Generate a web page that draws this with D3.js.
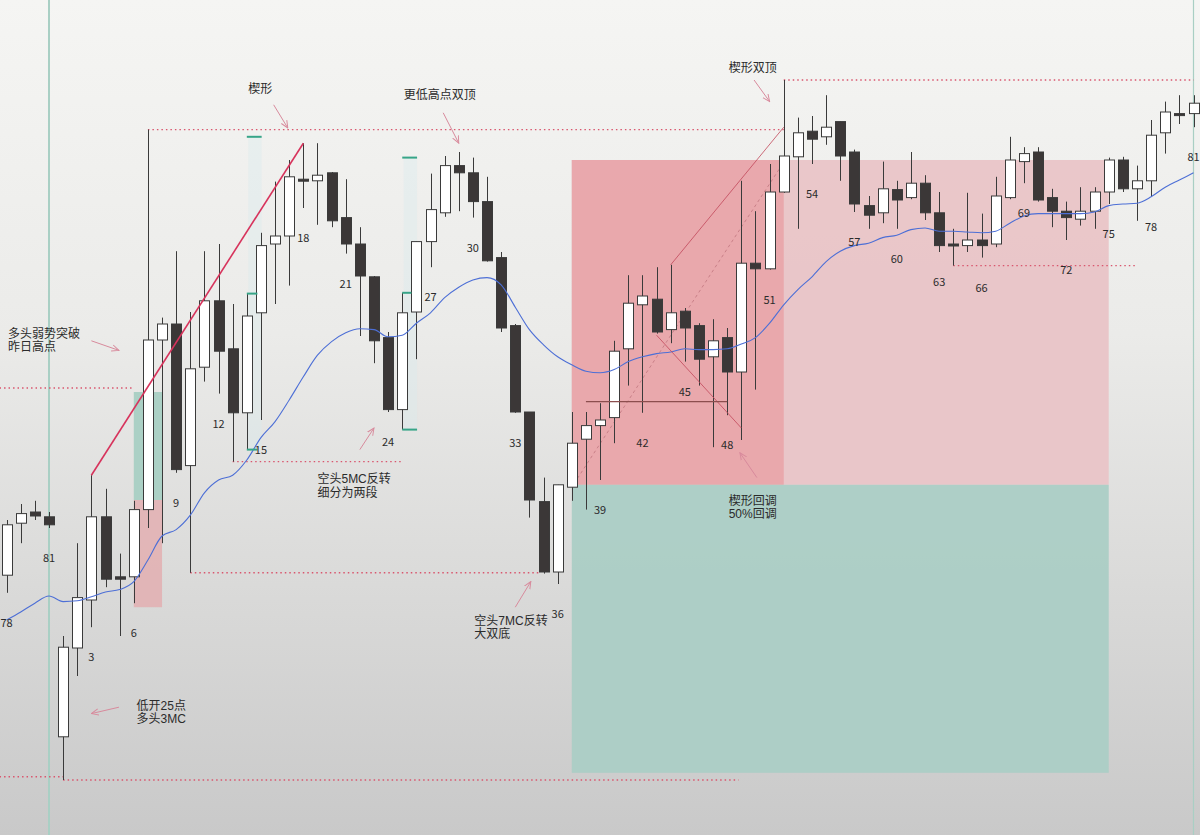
<!DOCTYPE html>
<html>
<head>
<meta charset="utf-8">
<script src="https://cdn.jsdelivr.net/npm/d3@7"></script>
<style>
  body { margin: 0; background: #e6e6e4; }
  svg { display: block; }
  text { font-family: "Noto Sans CJK SC", "Noto Sans", sans-serif; fill: #2b2b2b; }
  text.note { font-family: "Liberation Sans", "Noto Sans CJK SC", sans-serif; }
</style>
</head>
<body>
<div id="chart"></div>
<script>
// bar numbers: last 4 bars of yesterday, then today 1..81
var barNames = [78, 79, 80, 81].concat(d3.range(1, 82));

var opens = [4028.1, 4034.6, 4036.0, 4035.4,
  4007.9, 4019.0, 4025.0, 4035.4, 4027.9, 4027.9, 4036.3, 4057.5, 4059.5, 4041.8,
  4054.1, 4062.4, 4056.4, 4048.4, 4060.9, 4069.5, 4070.5, 4077.6, 4077.4, 4078.4,
  4072.8, 4069.5, 4065.4, 4057.8, 4048.8, 4061.0, 4069.8, 4073.4, 4079.3, 4078.4,
  4074.8, 4067.8, 4059.3, 4048.5, 4037.3, 4028.5, 4039.1, 4045.1, 4046.8, 4047.8,
  4056.4, 4061.9, 4062.6, 4058.8, 4061.1, 4059.3, 4055.4, 4057.8, 4053.5, 4067.1,
  4066.4, 4076.0, 4080.4, 4083.6, 4082.9, 4084.8, 4081.0, 4074.3, 4073.4, 4076.3,
  4075.3, 4077.1, 4073.4, 4069.5, 4069.3, 4070.0, 4069.5, 4075.3, 4079.8, 4081.0,
  4075.3, 4073.6, 4072.6, 4073.6, 4076.0, 4080.0, 4076.4, 4077.4, 4083.4, 4085.8, 4085.8];

var highs = [4035.0, 4037.0, 4037.4, 4036.0,
  4020.5, 4032.1, 4040.6, 4038.9, 4030.8, 4037.4, 4083.8, 4060.3, 4068.6, 4061.0,
  4068.6, 4069.5, 4062.0, 4063.3, 4070.9, 4077.3, 4080.0, 4082.1, 4082.1, 4078.5,
  4077.6, 4071.6, 4065.5, 4058.5, 4063.4, 4069.8, 4078.3, 4080.5, 4081.0, 4080.3,
  4077.9, 4068.5, 4059.5, 4048.5, 4040.3, 4039.4, 4048.5, 4048.5, 4049.6, 4057.4,
  4065.6, 4065.6, 4066.6, 4066.9, 4061.5, 4059.6, 4060.1, 4059.0, 4077.4, 4073.6,
  4079.5, 4090.0, 4085.3, 4085.5, 4088.1, 4084.8, 4081.3, 4075.5, 4079.8, 4077.4,
  4081.0, 4078.1, 4076.0, 4071.4, 4075.9, 4073.3, 4077.9, 4082.9, 4081.6, 4081.6,
  4076.4, 4074.8, 4076.6, 4076.6, 4080.3, 4080.4, 4079.3, 4085.0, 4087.3, 4088.1, 4088.1];

var lows = [4025.9, 4032.1, 4035.0, 4034.0,
  4002.5, 4015.5, 4021.6, 4026.6, 4020.5, 4024.6, 4034.0, 4032.1, 4040.9, 4028.4,
  4052.3, 4050.8, 4042.3, 4043.8, 4047.5, 4062.0, 4064.3, 4074.0, 4071.9, 4071.6,
  4068.3, 4058.0, 4054.6, 4048.5, 4046.3, 4055.1, 4066.6, 4072.9, 4073.6, 4072.8,
  4067.3, 4058.5, 4048.4, 4035.3, 4028.3, 4027.0, 4037.4, 4036.3, 4040.0, 4044.6,
  4051.8, 4048.4, 4058.3, 4057.1, 4054.8, 4051.8, 4044.1, 4048.1, 4045.0, 4051.3,
  4066.3, 4075.9, 4071.4, 4079.5, 4081.9, 4077.4, 4073.5, 4071.4, 4072.1, 4071.4,
  4075.1, 4072.5, 4068.5, 4066.8, 4068.5, 4067.8, 4069.1, 4075.1, 4077.1, 4074.8,
  4071.6, 4070.0, 4071.8, 4071.4, 4074.5, 4076.0, 4072.4, 4075.4, 4080.8, 4084.5, 4084.1];

var closes = [4034.4, 4035.8, 4035.5, 4034.4,
  4019.1, 4025.3, 4035.4, 4027.6, 4027.6, 4036.3, 4057.5, 4059.5, 4041.3, 4053.9,
  4062.4, 4056.1, 4048.4, 4060.5, 4069.3, 4070.5, 4077.9, 4077.4, 4078.1, 4072.4,
  4069.5, 4065.5, 4057.4, 4048.8, 4060.9, 4069.8, 4073.8, 4079.3, 4078.4, 4074.8,
  4067.4, 4059.0, 4048.5, 4037.5, 4028.5, 4039.4, 4044.6, 4046.8, 4047.5, 4056.1,
  4062.1, 4063.0, 4058.5, 4060.9, 4059.0, 4055.1, 4057.4, 4053.5, 4067.1, 4066.4,
  4076.0, 4080.5, 4083.4, 4082.6, 4084.1, 4080.5, 4074.5, 4073.1, 4076.4, 4075.0,
  4077.1, 4073.4, 4069.3, 4069.3, 4070.0, 4069.3, 4075.5, 4080.0, 4080.8, 4075.0,
  4073.6, 4072.8, 4073.6, 4076.0, 4080.0, 4076.4, 4077.4, 4083.1, 4086.0, 4085.7, 4087.1];

// 20 bar EMA (blue line)
var ema20 = [4022.5, 4023.5, 4024.6, 4025.5,
  4024.8, 4024.9, 4025.4, 4026.0, 4026.3, 4027.3, 4030.0, 4033.0, 4033.8, 4035.6,
  4038.4, 4040.0, 4040.6, 4042.5, 4045.3, 4047.3, 4050.0, 4052.9, 4055.6, 4057.3,
  4058.4, 4058.9, 4058.8, 4057.9, 4058.1, 4059.6, 4060.9, 4062.8, 4064.1, 4065.0,
  4065.3, 4064.4, 4061.6, 4058.8, 4056.9, 4055.4, 4054.4, 4053.6, 4053.4, 4053.8,
  4054.8, 4055.4, 4055.8, 4056.0, 4056.4, 4056.3, 4056.3, 4056.4, 4057.0, 4057.8,
  4059.6, 4061.9, 4063.8, 4065.4, 4067.3, 4068.6, 4069.3, 4069.6, 4070.3, 4070.6,
  4071.3, 4071.5, 4071.1, 4071.1, 4071.0, 4070.9, 4071.1, 4072.1, 4073.0, 4073.3,
  4073.3, 4073.3, 4073.3, 4073.5, 4074.3, 4074.5, 4074.6, 4075.4, 4076.6, 4077.5, 4078.4];

// zones [fromBar, toBar, topPrice, bottomPrice, colour]
var zones = [
  [37, 75, 4080.0, 4039.4, "#e9c4c7"],
  [37, 52, 4080.0, 4039.4, "#e9a7ab"],
  [37, 75, 4039.4, 4003.4, "#abcdc5"],
  [6, 8, 4051.0, 4037.5, "#a8cfc3"],
  [6, 8, 4037.5, 4024.1, "#e2b3b5"]
];

// dotted price levels [fromBar, toBar, price]
var levels = [
  [-3.5, 6, 4051.5],
  [7, 52, 4083.8],
  [52, 81, 4090.0],
  [13, 24.9, 4042.3],
  [10, 34.7, 4028.4],
  [64, 77, 4066.8],
  [1, 48.8, 4002.5],
  [-3.5, 1, 4002.9]
];

// trend lines [bar1, price1, bar2, price2]
var wedgeLine = [3, 4040.6, 18, 4082.1];
var thinLines = [
  [44, 4066.9, 52, 4084.1],
  [43, 4058.1, 49, 4046.5]
];
var dashLine = [37.4, 4040.2, 52.1, 4080.0];
var midLine = [38, 4049.8, 48, 4049.8];

// measured move ticks [bar1, bar2, price]
var mmTicks = [
  [14, 15.05, 4082.9], [14, 14.75, 4063.3], [14, 14.75, 4043.8],
  [25, 26.05, 4080.3], [25, 25.65, 4063.4], [25, 26.05, 4046.3]
];
var mmBands = [[14.1, 15.05, 4082.9, 4043.8], [25.1, 26.05, 4080.3, 4046.3]];

// notes: [bar, price, lines]
var notes = [
  [14.1, 4088.9, ["楔形"]],
  [25.1, 4088.1, ["更低高点双顶"]],
  [48.1, 4091.5, ["楔形双顶"]],
  [-2.9, 4058.3, ["多头弱势突破", "昨日高点"]],
  [19.0, 4040.1, ["空头5MC反转", "细分为两段"]],
  [30.1, 4022.4, ["空头7MC反转", "大双底"]],
  [6.2, 4011.8, ["低开25点", "多头3MC"]],
  [48.1, 4037.4, ["楔形回调", "50%回调"]]
];

// arrows [bar1, price1, bar2, price2]
var arrows = [
  [15.9, 4086.9, 16.9, 4084.0],
  [27.9, 4085.9, 29.0, 4082.1],
  [49.9, 4090.0, 51.0, 4087.3],
  [3.0, 4057.4, 4.95, 4056.2],
  [22.0, 4043.8, 23.0, 4046.5],
  [33.0, 4024.1, 34.1, 4027.3],
  [4.95, 4011.6, 3.0, 4010.8],
  [50.1, 4040.3, 48.9, 4043.4]
];

var sessionMarks = [0, 81];

var width = 1200, height = 835;

var x = d3.scaleLinear().domain([0, 81]).range([49, 1193.5]);
var y = d3.scaleLinear().domain([4000, 4100]).range([800, 0]);

var bars = barNames.map(function(n, i) {
  return {n: n, k: i - 3, o: opens[i], h: highs[i], l: lows[i], c: closes[i], ma: ema20[i]};
});

var svg = d3.select("#chart").append("svg")
  .attr("width", width)
  .attr("height", height);

var defs = svg.append("defs");
var grad = defs.append("linearGradient").attr("id", "bg")
  .attr("x1", 0).attr("y1", 0).attr("x2", 0).attr("y2", 1);
grad.append("stop").attr("offset", "0%").attr("stop-color", "#f5f5f3");
grad.append("stop").attr("offset", "40%").attr("stop-color", "#ebebe9");
grad.append("stop").attr("offset", "100%").attr("stop-color", "#c9c9c9");

defs.append("marker").attr("id", "head")
  .attr("viewBox", "0 -5 10 10")
  .attr("refX", 9).attr("refY", 0)
  .attr("markerWidth", 8).attr("markerHeight", 8)
  .attr("markerUnits", "userSpaceOnUse")
  .attr("orient", "auto")
  .append("path")
  .attr("d", "M0,-4L9,0L0,4")
  .attr("fill", "none")
  .attr("stroke", "#d88a9c")
  .attr("stroke-width", 1.2);

svg.append("rect").attr("width", width).attr("height", height).attr("fill", "url(#bg)");

// zones
svg.selectAll(".zone").data(zones).enter().append("rect")
  .attr("class", "zone")
  .attr("x", function(d) { return x(d[0]); })
  .attr("y", function(d) { return y(d[2]); })
  .attr("width", function(d) { return x(d[1]) - x(d[0]); })
  .attr("height", function(d) { return y(d[3]) - y(d[2]); })
  .attr("fill", function(d) { return d[4]; })
  .attr("opacity", 0.95);

// faint band of the measuring tool
svg.selectAll(".band").data(mmBands).enter().append("rect")
  .attr("x", function(d) { return x(d[0]); })
  .attr("y", function(d) { return y(d[2]); })
  .attr("width", function(d) { return x(d[1]) - x(d[0]); })
  .attr("height", function(d) { return y(d[3]) - y(d[2]); })
  .attr("fill", "#d6ecef")
  .attr("opacity", 0.35);

// session separators
svg.selectAll(".sess").data(sessionMarks).enter().append("line")
  .attr("x1", function(d) { return x(d); })
  .attr("x2", function(d) { return x(d); })
  .attr("y1", 0).attr("y2", height)
  .attr("stroke", "#a9cfc4")
  .attr("stroke-width", function(d, i) { return i == 0 ? 2 : 1.2; });

// dotted levels
svg.selectAll(".level").data(levels).enter().append("line")
  .attr("x1", function(d) { return x(d[0]); })
  .attr("x2", function(d) { return x(d[1]); })
  .attr("y1", function(d) { return y(d[2]); })
  .attr("y2", function(d) { return y(d[2]); })
  .attr("stroke", "#d9566e")
  .attr("stroke-width", 1.4)
  .attr("stroke-dasharray", "1.5,3");

function seg(sel, d) {
  return sel.attr("x1", x(d[0])).attr("y1", y(d[1])).attr("x2", x(d[2])).attr("y2", y(d[3]));
}

seg(svg.append("line"), dashLine)
  .attr("stroke", "#c98088").attr("stroke-width", 1).attr("stroke-dasharray", "3,3");

// candles
var candle = svg.selectAll(".candle").data(bars).enter().append("g").attr("class", "candle");

candle.append("line")
  .attr("x1", function(d) { return Math.round(x(d.k)) + 0.5; })
  .attr("x2", function(d) { return Math.round(x(d.k)) + 0.5; })
  .attr("y1", function(d) { return y(d.h); })
  .attr("y2", function(d) { return y(d.l); })
  .attr("stroke", "#3a3a3a")
  .attr("stroke-width", 1);

candle.append("rect")
  .attr("x", function(d) { return Math.round(x(d.k)) - 4.5; })
  .attr("y", function(d) { return y(Math.max(d.o, d.c)); })
  .attr("width", 10)
  .attr("height", function(d) { return Math.max(2, Math.abs(y(d.o) - y(d.c))); })
  .attr("fill", function(d) { return d.c < d.o ? "#3b3737" : "#ffffff"; })
  .attr("stroke", "#3a3a3a")
  .attr("stroke-width", 1);

// ema
svg.append("path")
  .datum(bars)
  .attr("fill", "none")
  .attr("stroke", "#4d6fd6")
  .attr("stroke-width", 1.1)
  .attr("d", d3.line()
    .x(function(d) { return x(d.k); })
    .y(function(d) { return y(d.ma); })
    .curve(d3.curveMonotoneX));

// trend lines
seg(svg.append("line"), wedgeLine).attr("stroke", "#d7335c").attr("stroke-width", 1.6);
thinLines.forEach(function(d) {
  seg(svg.append("line"), d).attr("stroke", "#c2485a").attr("stroke-width", 0.8);
});
seg(svg.append("line"), midLine).attr("stroke", "#8c4e4e").attr("stroke-width", 1.3);

// measured move ticks
svg.selectAll(".mm").data(mmTicks).enter().append("line")
  .attr("x1", function(d) { return x(d[0]); })
  .attr("x2", function(d) { return x(d[1]); })
  .attr("y1", function(d) { return y(d[2]); })
  .attr("y2", function(d) { return y(d[2]); })
  .attr("stroke", "#37a588")
  .attr("stroke-width", 2);

// bar numbers
svg.selectAll(".num").data(bars.filter(function(d) { return d.n % 3 == 0; }))
  .enter().append("text")
  .attr("x", function(d) { return x(d.k); })
  .attr("y", function(d) { return y(d.l) + 29; })
  .attr("text-anchor", "middle")
  .attr("dominant-baseline", "central")
  .attr("font-size", 11)
  .text(function(d) { return d.n; });

// arrows
svg.selectAll(".arrow").data(arrows).enter().append("line")
  .attr("x1", function(d) { return x(d[0]); })
  .attr("y1", function(d) { return y(d[1]); })
  .attr("x2", function(d) { return x(d[2]); })
  .attr("y2", function(d) { return y(d[3]); })
  .attr("stroke", "#d88a9c")
  .attr("stroke-width", 1)
  .attr("marker-end", "url(#head)");

// notes, one text per line
var noteLines = [];
notes.forEach(function(d) {
  d[2].forEach(function(t, i) { noteLines.push({t: t, i: i, k: d[0], p: d[1]}); });
});
svg.selectAll(".note").data(noteLines).enter().append("text")
  .attr("class", "note")
  .attr("font-size", 12)
  .attr("dominant-baseline", "central")
  .attr("x", function(d) { return x(d.k); })
  .attr("y", function(d) { return y(d.p) + d.i * 13.5; })
  .text(function(d) { return d.t; });
</script>
</body>
</html>
